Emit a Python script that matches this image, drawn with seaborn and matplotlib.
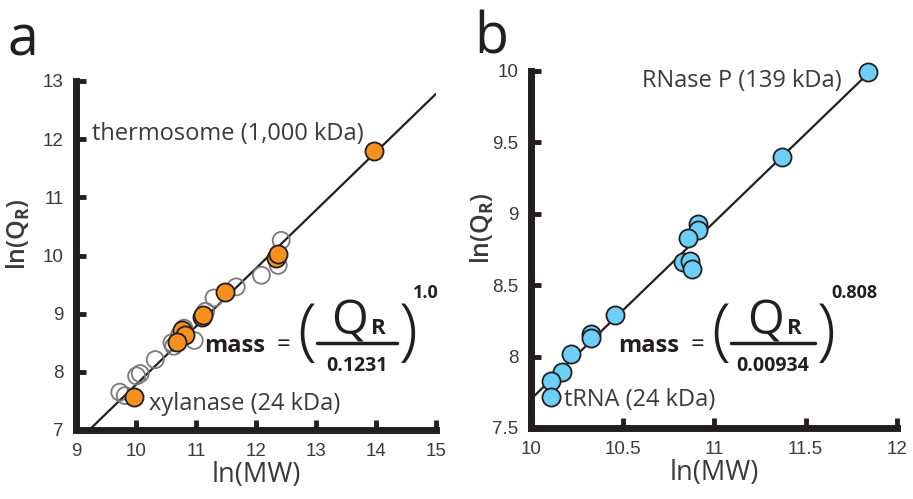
import numpy as np
import pandas as pd
import matplotlib
matplotlib.use("Agg")
import matplotlib.pyplot as plt
from matplotlib.lines import Line2D
import seaborn as sns

# ---------------- data ----------------
# panel a: open (grey) circles
a_open_lnmw = [12.42, 12.37, 12.09, 11.67, 11.30, 11.16, 10.97, 10.63, 10.60, 10.32, 10.07, 10.01, 9.73, 9.82, 10.72, 10.80]
a_open_lnq = [10.26, 9.83, 9.66, 9.46, 9.27, 9.04, 8.54, 8.44, 8.50, 8.21, 7.97, 7.93, 7.65, 7.59, 8.62, 8.75]
# panel a: filled (orange) circles
a_fill_lnmw = [13.96, 12.34, 12.37, 11.48, 11.10, 11.12, 10.77, 10.82, 10.69, 9.96]
a_fill_lnq = [11.79, 9.96, 10.03, 9.38, 8.95, 8.98, 8.72, 8.63, 8.51, 7.56]
# panel b: RNA (blue) circles
b_lnmw = [11.84, 11.37, 10.91, 10.91, 10.86, 10.83, 10.87, 10.88, 10.46, 10.33, 10.33, 10.22, 10.17, 10.11, 10.11]
b_lnq = [9.99, 9.40, 8.93, 8.89, 8.83, 8.66, 8.67, 8.61, 8.29, 8.16, 8.13, 8.02, 7.89, 7.83, 7.72]

# fits  ln(Q) = slope*ln(MW) + intercept
fit_a_slope, fit_a_intercept = 1.0, -2.22
fit_a_range = [9.22, 15.0]
fit_b_slope, fit_b_intercept = 1 / 0.808, np.log(0.00934)
fit_b_range = [10.0, 11.86]

xticks_a = [9, 10, 11, 12, 13, 14, 15]
yticks_a = [7, 8, 9, 10, 11, 12, 13]
xticks_b = [10, 10.5, 11, 11.5, 12]
yticks_b = [7.5, 8, 8.5, 9, 9.5, 10]
xtick_labels_b = ["10", "10.5", "11", "11.5", "12"]
ytick_labels_b = ["7.5", "8", "8.5", "9", "9.5", "10"]

labels_a = [("thermosome (1,000 kDa)", 92, 140), ("xylanase (24 kDa)", 149, 410)]
labels_b = [("RNase P (139 kDa)", 642, 87), ("tRNA (24 kDa)", 564, 406)]

# ---------------- style ----------------
sns.set_theme(style="white")
plt.rcParams["font.family"] = ["Open Sans", "DejaVu Sans"]
plt.rcParams["mathtext.fontset"] = "custom"
plt.rcParams["mathtext.rm"] = "Open Sans"
plt.rcParams["mathtext.bf"] = "Open Sans:bold"

INK = "#231f20"
TXT = "#3a3a3a"
ORANGE = "#f7901e"
BLUE = "#6dcff6"
GREY = "#7a7a7a"

W, H = 913, 499
fig = plt.figure(figsize=(W / 100, H / 100), dpi=100)


def px_ax(x0, y0, x1, y1):
    return fig.add_axes([x0 / W, 1 - y1 / H, (x1 - x0) / W, (y1 - y0) / H])


def ftxt(x, y, s, **kw):
    fig.text(x / W, 1 - y / H, s, **kw)


ax_a = px_ax(76, 81, 436, 430)
ax_b = px_ax(531, 71, 897, 428)


def style_axes(ax, xt, yt, xl, yl, xtl=None, ytl=None):
    ax.set_xlim(xt[0], xt[-1])
    ax.set_ylim(yt[0], yt[-1])
    ax.set_xticks(xt)
    ax.set_yticks(yt)
    ax.set_xticklabels(xtl if xtl else [str(v) for v in xt])
    ax.set_yticklabels(ytl if ytl else [str(v) for v in yt])
    for s in ["top", "right"]:
        ax.spines[s].set_visible(False)
    for s in ["left", "bottom"]:
        ax.spines[s].set_linewidth(5)
        ax.spines[s].set_color(INK)
        ax.spines[s].set_capstyle("projecting")
    ax.tick_params(direction="in", length=7, width=3.5, color=INK, pad=9,
                   labelsize=13.5, labelcolor=TXT, left=True, bottom=True)
    for lab in ax.get_xticklabels() + ax.get_yticklabels():
        lab.set_family(["Liberation Sans"])
    ax.set_xlabel(xl, fontsize=19.5, color=TXT, labelpad=1)
    ax.set_ylabel(yl, fontsize=18, color=TXT, fontweight=600)
    ax.set_facecolor("none")


# panel a
fx = np.array(fit_a_range)
sns.lineplot(x=fx, y=fit_a_slope * fx + fit_a_intercept, ax=ax_a, color=INK, lw=1.6)
sns.scatterplot(x=a_open_lnmw, y=a_open_lnq, ax=ax_a, s=150, facecolor="none",
                edgecolor=GREY, linewidth=1.3, clip_on=False, zorder=3)
sns.scatterplot(x=a_fill_lnmw, y=a_fill_lnq, ax=ax_a, s=170, color=ORANGE,
                edgecolor=INK, linewidth=1.3, clip_on=False, zorder=4)
style_axes(ax_a, xticks_a, yticks_a, "ln(MW)", r"ln(Q$_\mathbf{R}$)")

# panel b
fxb = np.array(fit_b_range)
sns.lineplot(x=fxb, y=fit_b_slope * fxb + fit_b_intercept, ax=ax_b, color=INK, lw=1.6)
sns.scatterplot(x=b_lnmw, y=b_lnq, ax=ax_b, s=170, color=BLUE,
                edgecolor=INK, linewidth=1.3, clip_on=False, zorder=4)
style_axes(ax_b, xticks_b, yticks_b, "ln(MW)", r"ln(Q$_\mathbf{R}$)",
           xtick_labels_b, ytick_labels_b)

ax_a.yaxis.set_label_coords(-0.122, 0.56)
ax_b.yaxis.set_label_coords(-0.095, 0.56)

# annotations
for s, x, y in labels_a + labels_b:
    ftxt(x, y, s, fontsize=17, color=TXT, va="baseline", ha="left")

# panel letters
ftxt(8, 56, "a", fontsize=40, color=INK, va="baseline")
ftxt(474, 53, "b", fontsize=40, color=INK, va="baseline")


# equations
def equation(x0, denom, expo, bar_w):
    ftxt(x0, 352, "mass", fontsize=17, fontweight="bold", color=INK, va="baseline")
    ftxt(x0 + 73, 351, "=", fontsize=17, color=INK, va="baseline")
    ftxt(x0 + 93, 334, "(", fontsize=50, color=INK, va="center", fontweight="light")
    bx0 = x0 + 113
    ftxt(bx0 + bar_w / 2 - 8, 334, "Q", fontsize=34, color=INK, va="baseline", ha="center")
    ftxt(bx0 + bar_w / 2 + 14, 334, "R", fontsize=16, color=INK, va="baseline", ha="left", fontweight="bold")
    fig.add_artist(Line2D([bx0 / W, (bx0 + bar_w) / W], [1 - 343 / H, 1 - 343 / H],
                          transform=fig.transFigure, color=INK, lw=2.5))
    ftxt(bx0 + bar_w / 2, 371, denom, fontsize=14, fontweight="bold", color=INK, va="baseline", ha="center")
    ftxt(bx0 + bar_w + 2, 334, ")", fontsize=50, color=INK, va="center", fontweight="light")
    ftxt(bx0 + bar_w + 16, 298, expo, fontsize=13, fontweight="bold", color=INK, va="baseline")


equation(204, "0.1231", "1.0", 80)
equation(618, "0.00934", "0.808", 84)

fig.savefig("out.png", dpi=100)
